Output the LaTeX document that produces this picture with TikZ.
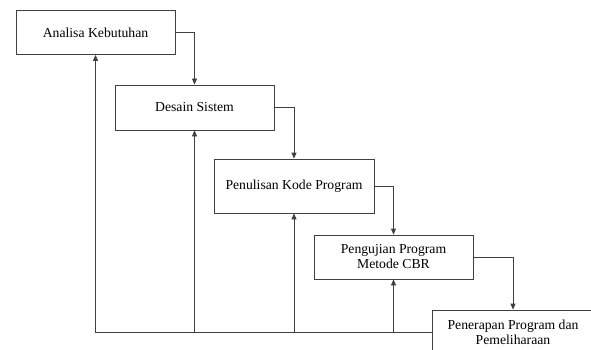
\documentclass[tikz,border=0pt]{standalone}
\usepackage{fontspec}
\setmainfont{Liberation Serif}
\usetikzlibrary{arrows.meta}
\tikzset{
  tahap/.style={draw=black!75, line width=0.8pt, minimum width=159pt, minimum height=44pt,
    align=center, font=\fontsize{13.7}{15}\selectfont, inner sep=0pt},
  alur/.style={draw=black!75, line width=0.8pt, -{Triangle[length=6pt,width=5pt]}}
}
\begin{document}
\begin{tikzpicture}[x=1pt,y=-1pt]
      \clip (0,0) rectangle (591,350);
      \useasboundingbox (0,0) rectangle (591,350);
      \node[tahap] (1) at (95.5,32.5) {Analisa Kebutuhan};
      \node[tahap, minimum height=45pt] (2) at (194.5,107.5) {Desain Sistem};
      \node[tahap, minimum width=160pt, minimum height=54pt] (3) at (294,186) {Penulisan Kode Program};
      \node[tahap] (4) at (393.5,257) {Pengujian Program\\Metode CBR};
      \node[tahap, minimum width=162pt, minimum height=45pt] (5) at (513,332.5) {Penerapan Program dan\\Pemeliharaan};
      \begin{scope}[alur]
        \draw (1) -| (2);
        \draw (2) -| (3);
        \draw (3) -| (4);
        \draw (4) -| (5);
        \draw (5.west) -| (1.south);
        \draw (2.south |- 5.west) -- (2.south);
        \draw (3.south |- 5.west) -- (3.south);
        \draw (4.south |- 5.west) -- (4.south);
      \end{scope}
    \end{tikzpicture}
\end{document}
